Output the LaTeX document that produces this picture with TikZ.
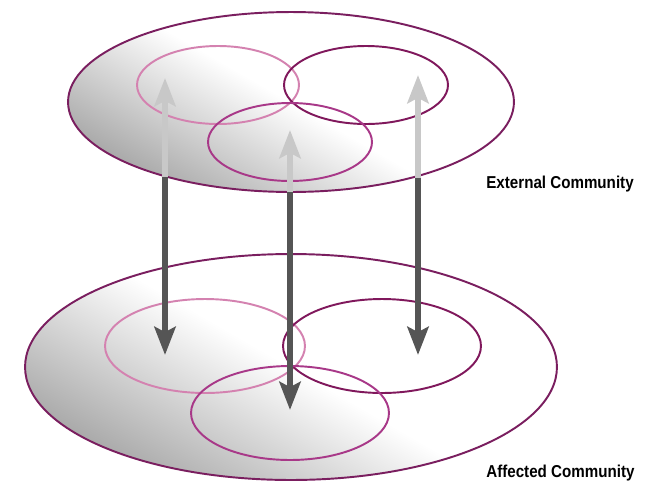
\documentclass[tikz,border=0pt]{standalone}
\usepackage{fontspec}
\usepackage{tikz}
\usetikzlibrary{arrows.meta}
\newfontfamily\tagfont{Liberation Sans}[FakeStretch=0.88]
\definecolor{rim}{RGB}{122,30,95}
\definecolor{ringpale}{RGB}{212,130,176}
\definecolor{ringdeep}{RGB}{128,24,92}
\definecolor{ringmid}{RGB}{168,56,136}
\definecolor{shaftlight}{RGB}{200,200,200}
\definecolor{shaftdark}{RGB}{85,85,85}

\begin{document}
\begin{tikzpicture}[x=0.02cm, y=-0.02cm,
    plate/.style={draw=rim, line width=1.1pt, top color=white, bottom color=black!34, middle color=white, shading angle=-30},
    ring/.style={line width=1.1pt},
    uplink/.style={draw=shaftlight, line width=3.4pt, -{Stealth[length=16pt, width=12pt, inset=3pt]}},
    downlink/.style={draw=shaftdark, line width=3.4pt, -{Stealth[length=16pt, width=12pt, inset=3pt]}},
    tag/.style={font=\tagfont\bfseries\fontsize{9.8}{11}\selectfont, anchor=west, inner sep=0pt}]
  \useasboundingbox (0,0) rectangle (655,484);
  % affected community (lower plate)
  \path[plate] (291,367) ellipse [x radius=5.32cm, y radius=2.26cm];
  \draw[ring, ringpale] (205,346) ellipse [x radius=2.0cm, y radius=0.94cm];
  \draw[ring, ringdeep] (382,346) ellipse [x radius=1.98cm, y radius=0.94cm];
  \draw[ring, ringmid] (290,413) ellipse [x radius=1.98cm, y radius=0.94cm];
  % external community (upper plate)
  \path[plate] (291,102) ellipse [x radius=4.46cm, y radius=1.8cm];
  \draw[ring, ringpale] (218,85) ellipse [x radius=1.62cm, y radius=0.78cm];
  \draw[ring, ringdeep] (366,85) ellipse [x radius=1.64cm, y radius=0.78cm];
  \draw[ring, ringmid] (290,142) ellipse [x radius=1.64cm, y radius=0.78cm];
  % links between the two plates
  \foreach \n/\x/\top/\edge/\bot in {a/165/78/177/355, b/290/130/192/410, c/418/75/178/355} {
    \coordinate (up-\n) at (\x,\top);
    \coordinate (rim-\n) at (\x,\edge);
    \coordinate (down-\n) at (\x,\bot);
    \draw[uplink] (rim-\n) -- (up-\n);
    \draw[downlink] (rim-\n) -- (down-\n);
  }
  \node[tag] (external) at (486,184) {External Community};
  \node[tag] (affected) at (486,473) {Affected Community};
\end{tikzpicture}
\end{document}
